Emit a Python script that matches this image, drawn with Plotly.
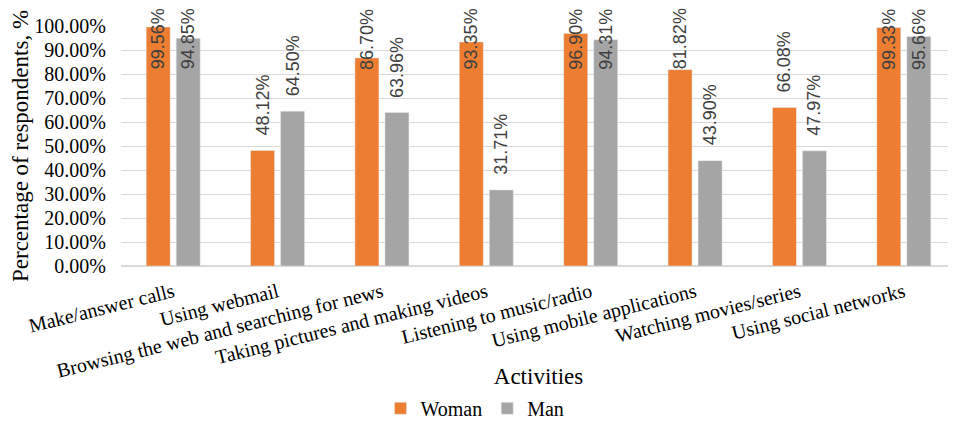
import plotly.graph_objects as go

categories = [
    "Make/answer calls",
    "Using webmail",
    "Browsing the web and searching for news",
    "Taking pictures and making videos",
    "Listening to music/radio",
    "Using mobile applications",
    "Watching movies/series",
    "Using social networks",
]
woman = [99.56, 48.12, 86.70, 93.35, 96.90, 81.82, 66.08, 99.33]
man = [94.85, 64.50, 63.96, 31.71, 94.31, 43.90, 47.97, 95.66]
y_ticks = [0, 10, 20, 30, 40, 50, 60, 70, 80, 90, 100]
y_tick_labels = [f"{v:.2f}%" for v in y_ticks]

ORANGE = "#ED7D31"
GRAY = "#A5A5A5"
SERIF = "Liberation Serif, Times New Roman, DejaVu Serif, serif"

fig = go.Figure()
fig.add_trace(go.Bar(name="Woman", x=categories, y=woman, marker_color=ORANGE))
fig.add_trace(go.Bar(name="Man", x=categories, y=man, marker_color=GRAY))

LABEL_GAP = 5.4
LABEL_CAP = 81.0
annotations = []
for series, shift in ((woman, -15), (man, 15)):
    for cat, v in zip(categories, series):
        annotations.append(dict(
            x=cat, y=min(v + LABEL_GAP, LABEL_CAP), xref="x", yref="y",
            text=f"{v:.2f}%", showarrow=False, textangle=-90,
            xanchor="center", yanchor="bottom", xshift=shift,
            font=dict(family="Liberation Sans, Arial, sans-serif", size=18, color="#404040"),
        ))

fig.update_layout(
    width=948, height=417,
    margin=dict(l=113, r=0, t=18, b=159),
    paper_bgcolor="white", plot_bgcolor="white",
    barmode="group", bargap=0.425, bargroupgap=0.2,
    font=dict(family=SERIF, size=20, color="#000000"),
    annotations=annotations,
    showlegend=True,
    legend=dict(orientation="h", xref="container", yref="container",
                x=0.4926, y=0.04, xanchor="center", yanchor="middle",
                font=dict(family=SERIF, size=20), itemwidth=30,
                traceorder="normal"),
    xaxis=dict(
        tickangle=-14, tickfont=dict(family=SERIF, size=20),
        showline=True, linecolor="#D9D9D9", linewidth=1,
        title=dict(text="Activities", font=dict(family=SERIF, size=23), standoff=12),
        ticklabelstandoff=6, automargin=False,
    ),
    yaxis=dict(
        range=[0, 100], tickvals=y_ticks, ticktext=y_tick_labels,
        tickfont=dict(family=SERIF, size=20),
        showgrid=True, gridcolor="#D9D9D9", gridwidth=1,
        zeroline=True, zerolinecolor="#D9D9D9",
        ticklabelstandoff=14, automargin=False,
        title=dict(text="Percentage of respondents, %", font=dict(family=SERIF, size=23), standoff=8),
    ),
)

fig.write_html("out.html")
